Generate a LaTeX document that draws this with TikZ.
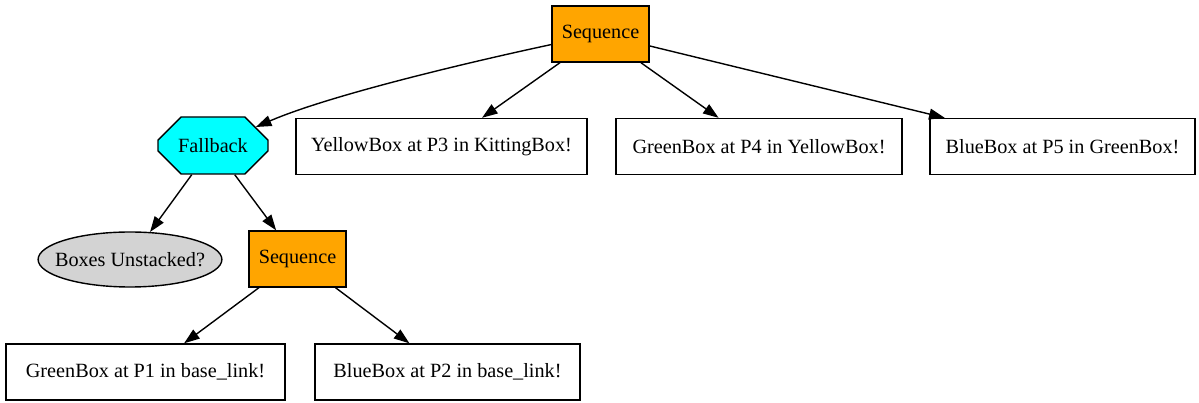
\documentclass[tikz,border=0pt]{standalone}
\usepackage{fontspec}
\setmainfont{Liberation Serif}
\usetikzlibrary{shapes.geometric,shapes.misc,arrows.meta}
\newlength\pxl
\setlength\pxl{0.6428pt}
\definecolor{seqorange}{HTML}{FFA500}
\definecolor{fbcyan}{HTML}{00FFFF}
\definecolor{condgray}{HTML}{D3D3D3}
\begin{document}
\begin{tikzpicture}[x=\pxl, y=-\pxl,
  every node/.style={font=\fontsize{13}{15}\selectfont, inner sep=0pt, line width=0.9pt},
  basebox/.style={draw, rectangle, minimum height=56\pxl},
  seqbox/.style={basebox, fill=seqorange, minimum width=97\pxl},
  actbox/.style={basebox, fill=white},
  fbbox/.style={draw, fill=fbcyan, chamfered rectangle, chamfered rectangle xsep=24\pxl,
    chamfered rectangle ysep=16\pxl, minimum width=110\pxl, minimum height=57\pxl},
  condbox/.style={draw, ellipse, fill=condgray, inner xsep=-10\pxl,
    minimum width=182\pxl, minimum height=55\pxl},
  edge/.style={draw, line width=0.9pt, -{Triangle[length=10pt,width=7pt]}}
]
\useasboundingbox (0,0) rectangle (1199,403);

% nodes
\node[seqbox] (seq) at (600.5,34) {Sequence};
\node[fbbox] (fb) at (213,145.5) {Fallback};
\node[actbox, minimum width=291\pxl] (yb3) at (441.5,146.5) {YellowBox at P3 in KittingBox!};
\node[actbox, minimum width=286\pxl] (gb4) at (759,146.5) {GreenBox at P4 in YellowBox!};
\node[actbox, minimum width=265\pxl] (bb5) at (1062.5,146.5) {BlueBox at P5 in GreenBox!};
\node[condbox] (cond) at (130,259.5) {Boxes Unstacked?};
\node[seqbox] (seq2) at (297.5,259) {Sequence};
\node[actbox, minimum width=279\pxl] (gb1) at (145.5,372) {GreenBox at P1 in base\_link!};
\node[actbox, minimum width=265\pxl] (bb2) at (447.5,372) {BlueBox at P2 in base\_link!};

% edges
\draw[edge] (seq) .. controls (470,62) and (330,95) .. (fb);
\draw[edge] (seq) -- (yb3);
\draw[edge] (seq) -- (gb4);
\draw[edge] (seq) -- (bb5);
\draw[edge] (fb) -- (cond);
\draw[edge] (fb) -- (seq2);
\draw[edge] (seq2) -- (gb1);
\draw[edge] (seq2) -- (bb2);
\end{tikzpicture}
\end{document}
